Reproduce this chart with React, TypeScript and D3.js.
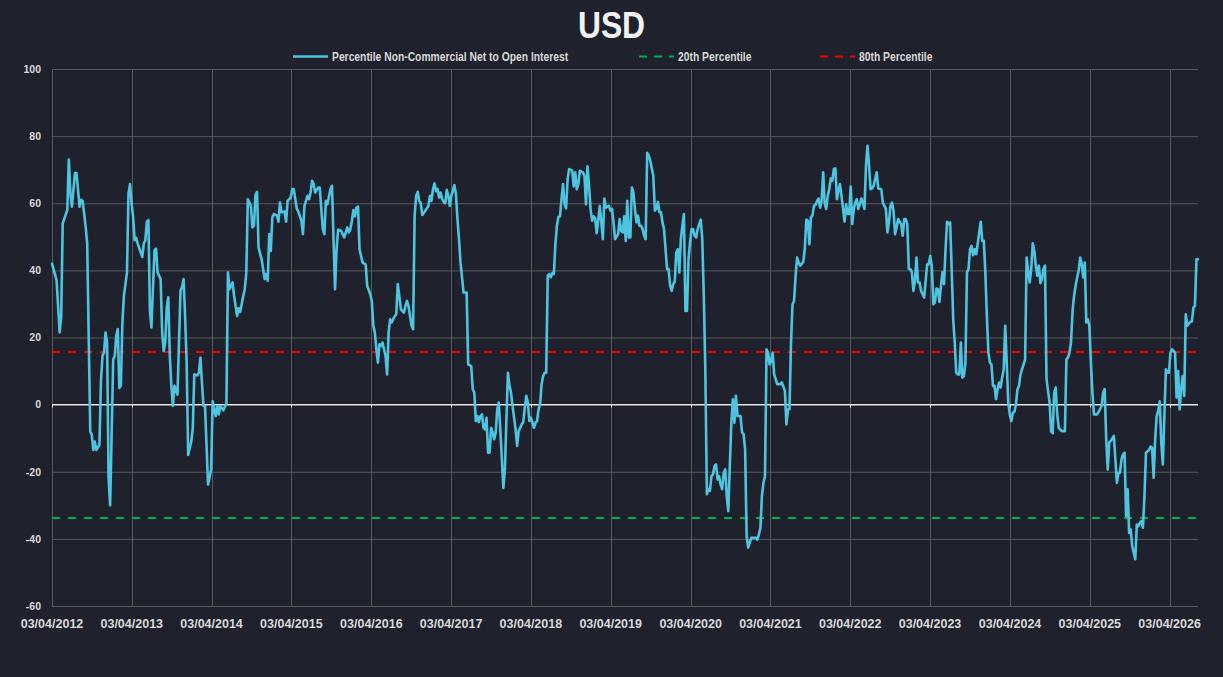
import { useEffect, useRef } from "react";
import * as d3 from "d3";

// weekly readings, week 0 = 03/04/2012 : [week, value]
const usdSeries: [number, number][] = [
  [0, 42], [3, 37], [5, 21.5], [6, 26], [7, 54], [10, 58], [11, 73], [12, 63], [13, 59], [15, 69],
  [16, 69], [18, 59], [19, 61], [20, 60.7], [21, 57], [22, 53], [23, 48], [25, -8], [26, -9], [27, -13.5],
  [28, -11], [29, -13.5], [31, -12], [32, 7], [33, 14.5], [34, 15.5], [35, 21.5], [36, 18.5], [37, -22], [38, -30],
  [40, 13.5], [41, 14.5], [42, 20.5], [43, 22.5], [44, 5], [45, 5.6], [46, 24.5], [47, 32.4], [49, 39.4], [50, 63],
  [51, 65.7], [52, 60], [53, 56], [54, 49], [55, 49.7], [56, 48], [59, 44], [60, 48], [61, 49], [62, 54.5],
  [63, 55], [64, 28], [65, 23], [66, 35], [67, 46], [68, 46.5], [69, 39.4], [71, 37.4], [72, 21.5], [73, 16],
  [74, 18.5], [75, 29], [76, 32], [77, 14.5], [78, 5.6], [79, -0.4], [80, 5.6], [82, 3], [84, 34], [85, 35],
  [86, 37.4], [87, 26], [88, 12.5], [89, -15], [91, -11], [92, -7], [93, 9], [95, 8.7], [96, 9.5], [97, 14],
  [98, 6.6], [99, -0.4], [100, -0.4], [102, -23.8], [104, -19.3], [105, 1], [106, -1.4], [107, -3.4], [108, -0.4], [109, -2.9],
  [110, -0.4], [112, -1.7], [114, 0.4], [115, 39.4], [116, 34.4], [118, 36.4], [119, 32.4], [121, 26.4], [122, 28.8], [123, 27.6],
  [125, 32.4], [126, 34.4], [127, 39.4], [128, 61.2], [130, 59.2], [131, 52.8], [132, 53.3], [133, 62.6], [134, 63.4], [135, 46.8],
  [137, 43.3], [139, 37.4], [140, 38.9], [141, 36.9], [142, 50.8], [143, 45.8], [144, 55.8], [145, 56.8], [147, 56.3], [148, 54.5],
  [149, 60.2], [150, 57.3], [152, 57.5], [153, 54.5], [154, 60.7], [156, 61.7], [157, 64.2], [158, 64.2], [160, 58.3], [161, 57.5],
  [163, 54.8], [164, 50.8], [165, 59.2], [167, 62.2], [168, 61.2], [169, 63.2], [170, 66.7], [171, 65.7], [172, 63.2], [174, 64.7],
  [175, 64.7], [176, 58.3], [177, 52.3], [178, 50.8], [179, 60.7], [180, 59.7], [182, 64.2], [183, 65.2], [184, 49.3], [185, 34.4],
  [186, 46.3], [187, 52.1], [189, 51.8], [191, 49.8], [193, 52.8], [194, 51.3], [195, 52.3], [196, 54.8], [197, 58], [198, 56.1],
  [199, 58.7], [200, 59], [201, 46.3], [202, 44.3], [203, 42.3], [205, 41.8], [206, 35.4], [208, 32.9], [209, 30.9], [210, 23.5],
  [211, 21.5], [212, 16.5], [213, 12.5], [214, 18], [215, 17.5], [216, 18.5], [218, 14.5], [219, 9], [220, 21.5], [221, 25.4],
  [222, 24.5], [224, 26.4], [225, 26.9], [226, 35.9], [227, 32.4], [228, 28.4], [229, 27.9], [230, 27.4], [231, 29.4], [232, 30.9],
  [233, 29.4], [235, 23.5], [236, 22.5], [237, 56.3], [238, 62.2], [239, 63.4], [240, 60.7], [241, 60], [242, 56.5], [244, 57.8],
  [246, 59.2], [247, 62.2], [248, 60.7], [249, 64.2], [250, 65.9], [251, 63.6], [252, 64.3], [253, 61.7], [254, 63.2], [255, 61.2],
  [256, 60.4], [257, 60], [258, 64], [259, 62.2], [260, 59.2], [261, 62.2], [263, 65.4], [264, 62.7], [265, 55.3], [266, 49.3],
  [267, 42.3], [269, 33.4], [271, 33.4], [272, 12], [274, 11.5], [275, 4.6], [276, 3.6], [277, -4.9], [278, -3.4], [279, -5.2],
  [280, -3.4], [281, -2.9], [282, -6.9], [283, -7.4], [284, -3.9], [285, -14.3], [286, -14.3], [287, -6.9], [288, -8.3], [289, -10.3],
  [290, -8.3], [291, -1.4], [292, 0.6], [293, -7.4], [295, -24.8], [296, -19.3], [297, -4.4], [298, 9.5], [299, 5.6], [300, 3.6],
  [301, -0.4], [303, -7.4], [304, -12.3], [305, -7.9], [307, -5.9], [308, -5.2], [309, -0.9], [310, 2.6], [311, 0.6], [312, -4.9],
  [313, -3.9], [314, -5.4], [315, -6.9], [316, -5.4], [317, -4.9], [318, -1.4], [319, 0.1], [320, 6.1], [321, 8.5], [322, 9.5],
  [323, 9.5], [324, 38.4], [325, 38.9], [326, 37.9], [327, 39.2], [328, 38.9], [329, 47.8], [330, 53.3], [331, 56], [332, 56.1],
  [333, 61.2], [334, 65.7], [335, 59.7], [336, 58.5], [337, 67.2], [338, 70.2], [340, 69.7], [341, 65], [342, 69.2], [343, 64.2],
  [344, 65.7], [345, 69.7], [346, 69.4], [347, 69.2], [348, 68.2], [349, 59.7], [350, 71], [351, 65.2], [352, 58.3], [353, 54.8],
  [354, 56.1], [355, 55.5], [356, 51.1], [357, 54.8], [358, 59.2], [359, 54.5], [360, 49.3], [361, 61.4], [362, 58.7], [363, 59],
  [364, 59.2], [365, 57.8], [366, 58.3], [367, 54.3], [368, 49.3], [370, 50.8], [371, 55.3], [372, 51.8], [373, 51.3], [374, 56.1],
  [375, 48.8], [376, 60.7], [377, 49.8], [378, 49.8], [379, 64.7], [380, 63.2], [381, 58.3], [382, 54.3], [383, 56.3], [384, 53.3],
  [385, 53.3], [386, 52.3], [387, 50.3], [388, 49.3], [389, 75], [390, 74.2], [391, 72.7], [393, 68.2], [394, 57.8], [395, 58.3],
  [396, 60.4], [397, 57.3], [398, 57.3], [399, 54.3], [400, 52.3], [402, 40.4], [403, 40.4], [404, 35.4], [405, 33.9], [406, 35.9],
  [407, 36.6], [408, 45.3], [409, 46.3], [410, 39.4], [411, 49.3], [412, 53.3], [413, 56.8], [414, 27.9], [415, 27.9], [416, 43.3],
  [417, 48.3], [418, 52.3], [419, 52.3], [420, 50.3], [421, 49.8], [422, 52.3], [423, 53.8], [424, 55.1], [425, 49.3], [426, 32.4],
  [427, 10.5], [428, -26.7], [429, -25.2], [430, -25.7], [431, -21.3], [432, -20.8], [433, -18.3], [434, -17.8], [435, -22.3], [436, -21.3],
  [437, -23.8], [438, -25.2], [439, -20.3], [440, -19.3], [441, -27.2], [442, -31.7], [443, -18.3], [444, -5.4], [445, 1.6], [446, -5.4],
  [447, 2.6], [448, -3.4], [450, -3.4], [451, -8.3], [452, -8.8], [453, -13.3], [454, -39.2], [455, -42.6], [456, -41.2], [457, -39.7],
  [458, -39.7], [460, -39.7], [461, -40.2], [462, -38.7], [463, -36.7], [464, -27.2], [465, -23.3], [466, -21.3], [467, 16.5], [468, 15.5],
  [469, 12], [470, 13], [471, 15.4], [472, 9], [474, 6.1], [475, 6.1], [476, 6.1], [477, 6.6], [479, 4.1], [480, -5.9],
  [481, -1.4], [482, -1.4], [483, 18.5], [484, 29.9], [485, 30.9], [486, 38.4], [487, 43.8], [488, 42.3], [489, 41.4], [491, 42.5],
  [492, 46.3], [493, 55.1], [494, 54.8], [495, 47.8], [496, 55.8], [497, 56.3], [498, 59.2], [499, 59.5], [500, 60.7], [501, 61.4],
  [502, 58.7], [503, 60.7], [504, 69.2], [505, 60.2], [506, 58.3], [507, 62.2], [508, 64.2], [509, 67.4], [510, 66.7], [511, 70.2],
  [512, 70.4], [513, 61.2], [514, 63.7], [515, 65.7], [516, 62.2], [518, 54.5], [519, 59.7], [520, 56.8], [521, 56.8], [522, 65],
  [523, 53.8], [524, 58.3], [525, 60.2], [526, 61.2], [527, 58.3], [529, 61.4], [530, 60.2], [531, 58.3], [532, 71.2], [533, 77.1],
  [534, 71.2], [535, 64.2], [536, 64.4], [537, 65.2], [538, 67.2], [539, 69.2], [540, 64.4], [542, 64.2], [543, 60.2], [544, 59.2],
  [545, 58.3], [546, 51.3], [547, 54.3], [548, 59.2], [549, 60.2], [550, 57.8], [551, 50.8], [552, 52.8], [553, 55.3], [555, 53.8],
  [556, 50.3], [557, 55.3], [558, 55.3], [559, 53.8], [560, 40.4], [561, 40.4], [562, 39.4], [563, 33.9], [564, 36.9], [565, 43.8],
  [566, 36.4], [567, 36.4], [568, 33.9], [570, 31.9], [571, 36.9], [572, 41.8], [573, 41.8], [574, 44.3], [575, 41.4], [576, 29.9],
  [577, 30.4], [578, 34.6], [579, 34.4], [580, 30.6], [581, 35.4], [582, 39.4], [583, 35.9], [584, 46.3], [585, 54.5], [586, 53.8],
  [587, 54.3], [588, 40.4], [589, 25.4], [590, 18.5], [591, 9.5], [592, 9], [593, 9], [594, 18.5], [595, 8.1], [596, 8.5],
  [597, 12.5], [598, 39.4], [599, 40.4], [600, 46.3], [601, 47.3], [602, 44.5], [603, 46.3], [604, 44.8], [605, 47.8], [606, 51.3],
  [607, 54.5], [608, 48.8], [609, 48.8], [610, 39.4], [611, 26.4], [612, 15.5], [613, 12.5], [614, 12], [615, 5.6], [616, 5.6],
  [617, 1.6], [618, 4.6], [619, 6.6], [620, 5.1], [621, 8.1], [622, 10.5], [623, 23.5], [624, 12.5], [625, 0.6], [626, -2.9],
  [627, -4.9], [628, -2.4], [629, -2.2], [630, 0.1], [631, 4.6], [632, 5.6], [633, 9], [634, 10.5], [635, 12], [636, 13.5],
  [637, 43.8], [638, 39.9], [639, 36.4], [640, 40.4], [641, 48.1], [642, 45.8], [643, 41.4], [644, 38.4], [645, 41.4], [646, 36.2],
  [647, 37.4], [648, 40.4], [649, 41.4], [650, 7.6], [651, 4.1], [652, 0.6], [653, -7.9], [654, -8.5], [655, 3.6], [656, 5.1],
  [657, -2.9], [658, -6.9], [660, -7.9], [661, -7.9], [662, -7.9], [663, 13.5], [664, 14], [665, 15.5], [666, 18.5], [667, 27.9],
  [668, 32.4], [669, 35.4], [670, 37.9], [671, 39.9], [672, 43.8], [673, 41.8], [674, 37.9], [675, 42.3], [676, 24.5], [677, 25.4],
  [678, 23.5], [679, 12.5], [680, 3.6], [681, -2.9], [683, -2.9], [684, -2.2], [686, -0.4], [687, 3.6], [688, 4.6], [689, -10.3],
  [690, -19.3], [691, -11.3], [692, -10.8], [693, -10.1], [694, -9.3], [695, -16.3], [696, -23.3], [697, -20.3], [698, -20.3], [699, -16.3],
  [700, -14.8], [701, -14.3], [702, -33.2], [703, -25.2], [704, -38.2], [705, -37.2], [706, -42.1], [708, -46.1], [709, -35.7], [710, -36.2],
  [711, -35.2], [712, -34.7], [713, -36.7], [714, -27.2], [715, -14.3], [717, -13.5], [718, -12.5], [719, -12.8], [720, -21.8], [721, -10.3],
  [722, -3.4], [723, -1.9], [724, 1], [725, -11.3], [726, -17.8], [728, 10.5], [729, 9.5], [730, 9.5], [731, 15.5], [732, 16.5],
  [734, 15.5], [735, 2.1], [736, 10], [737, -1.4], [738, 4.6], [739, 8.5], [740, 2.6], [741, 26.9], [742, 23.5], [744, 24.7],
  [745, 24.8], [746, 28.9], [747, 29.4], [748, 43.3], [749, 43.3],
];

const percentile20 = -33.8;
const percentile80 = 15.7;
const yTicks = [-60, -40, -20, 0, 20, 40, 60, 80, 100];
const tickYears = d3.range(2012, 2027);
const lastWeek = 749;
const chartTitle = "USD";
const seriesLabel = "Percentile Non-Commercial Net to Open Interest";
const lowLabel = "20th Percentile";
const highLabel = "80th Percentile";

const BG = "#1f222d";
const GRID = "#595959";
const TEXT = "#d9d9d9";
const BLUE = "#4fc4e0";
const RED = "#ff0000";
const GREEN = "#00b050";
const FONT = "'Liberation Sans', Arial, sans-serif";
// no narrow face installed, so squeeze the regular one horizontally
const SQUEEZE = 0.86;

export default function App() {
  const svgRef = useRef<SVGSVGElement>(null);

  useEffect(() => {
    if (!svgRef.current) return;
    const svg = d3.select(svgRef.current);
    svg.selectAll("*").remove();

    const width = 1223;
    const height = 677;
    const margin = { top: 69, right: 25, bottom: 71, left: 52 };

    const start = new Date(2012, 3, 3);
    const weekDate = (w: number) => d3.timeDay.offset(start, w * 7);

    const x = d3
      .scaleTime()
      .domain([start, weekDate(lastWeek)])
      .range([margin.left, width - margin.right]);

    const y = d3
      .scaleLinear()
      .domain([-60, 100])
      .range([height - margin.bottom, margin.top]);

    svg.append("rect").attr("width", width).attr("height", height).attr("fill", BG);

    // Horizontal grid
    svg
      .append("g")
      .selectAll("line")
      .data(yTicks.filter((t) => t !== 0))
      .enter()
      .append("line")
      .attr("x1", margin.left)
      .attr("x2", width - margin.right)
      .attr("y1", (d) => y(d) + 0.5)
      .attr("y2", (d) => y(d) + 0.5)
      .attr("stroke", GRID)
      .attr("stroke-width", 1);

    // Vertical grid at each year
    const yearDates = tickYears.map((yr) => new Date(yr, 3, 3));
    svg
      .append("g")
      .selectAll("line")
      .data(yearDates)
      .enter()
      .append("line")
      .attr("x1", (d) => Math.round(x(d)) + 0.5)
      .attr("x2", (d) => Math.round(x(d)) + 0.5)
      .attr("y1", y(100))
      .attr("y2", y(-60))
      .attr("stroke", GRID)
      .attr("stroke-width", 1);

    // Zero axis with small ticks
    svg
      .append("line")
      .attr("x1", margin.left)
      .attr("x2", width - margin.right)
      .attr("y1", y(0))
      .attr("y2", y(0))
      .attr("stroke", "#e6e6e6")
      .attr("stroke-width", 1.5);

    svg
      .append("g")
      .selectAll("line")
      .data(yearDates)
      .enter()
      .append("line")
      .attr("x1", (d) => Math.round(x(d)) + 0.5)
      .attr("x2", (d) => Math.round(x(d)) + 0.5)
      .attr("y1", y(0))
      .attr("y2", y(0) + 3)
      .attr("stroke", "#e6e6e6")
      .attr("stroke-width", 1);

    // Y labels
    svg
      .append("g")
      .selectAll("text")
      .data(yTicks)
      .enter()
      .append("text")
      .attr("x", margin.left - 11)
      .attr("y", (d) => y(d))
      .attr("dy", "0.36em")
      .attr("text-anchor", "end")
      .attr("font-family", FONT)
      .attr("font-weight", "bold")
      .attr("font-size", 10.5)
      .attr("fill", TEXT)
      .text((d) => d);

    // X labels
    const fmt = d3.timeFormat("%d/%m/%Y");
    svg
      .append("g")
      .selectAll("text")
      .data(yearDates)
      .enter()
      .append("text")
      .attr("x", (d) => x(d))
      .attr("y", 628)
      .attr("text-anchor", "middle")
      .attr("font-family", FONT)
      .attr("font-weight", "bold")
      .attr("font-size", 12.5)
      .attr("fill", TEXT)
      .text((d) => fmt(d));

    // Percentile thresholds
    const thresholds = [
      { value: percentile80, color: RED },
      { value: percentile20, color: GREEN },
    ];
    svg
      .append("g")
      .selectAll("line")
      .data(thresholds)
      .enter()
      .append("line")
      .attr("x1", margin.left)
      .attr("x2", width - margin.right)
      .attr("y1", (d) => y(d.value))
      .attr("y2", (d) => y(d.value))
      .attr("stroke", (d) => d.color)
      .attr("stroke-width", 2)
      .attr("stroke-dasharray", "8,8");

    // Series
    const line = d3
      .line<[number, number]>()
      .x((d) => x(weekDate(d[0])))
      .y((d) => y(d[1]));

    svg
      .append("path")
      .datum(usdSeries)
      .attr("d", line)
      .attr("fill", "none")
      .attr("stroke", BLUE)
      .attr("stroke-width", 2.6)
      .attr("stroke-linejoin", "round")
      .attr("stroke-linecap", "round");

    // Title
    svg
      .append("text")
      .attr("transform", `translate(${width / 2},38) scale(${SQUEEZE},1)`)
      .attr("text-anchor", "middle")
      .attr("font-family", FONT)
      .attr("font-weight", "bold")
      .attr("font-size", 37)
      .attr("fill", "#f2f2f2")
      .text(chartTitle);

    // Legend
    const legendY = 56.5;
    const legendItems = [
      { label: seriesLabel, color: BLUE, dash: null as string | null, x: 293 },
      { label: lowLabel, color: GREEN, dash: "8,7", x: 639 },
      { label: highLabel, color: RED, dash: "8,7", x: 820 },
    ];
    const legend = svg.append("g");
    legend
      .selectAll("line")
      .data(legendItems)
      .enter()
      .append("line")
      .attr("x1", (d) => d.x)
      .attr("x2", (d) => d.x + 35)
      .attr("y1", legendY)
      .attr("y2", legendY)
      .attr("stroke", (d) => d.color)
      .attr("stroke-width", (d) => (d.dash ? 2 : 2.6))
      .attr("stroke-dasharray", (d) => d.dash);

    legend
      .selectAll("text")
      .data(legendItems)
      .enter()
      .append("text")
      .attr("transform", (d) => `translate(${d.x + 39},${legendY}) scale(${SQUEEZE},1)`)
      .attr("dy", "0.35em")
      .attr("font-family", FONT)
      .attr("font-weight", "bold")
      .attr("font-size", 12)
      .attr("fill", TEXT)
      .text((d) => d.label);
  }, []);

  return (
    <div style={{ position: "fixed", left: 0, top: 0, width: 1223, height: 677, background: BG }}>
      <svg ref={svgRef} width={1223} height={677}></svg>
    </div>
  );
}
